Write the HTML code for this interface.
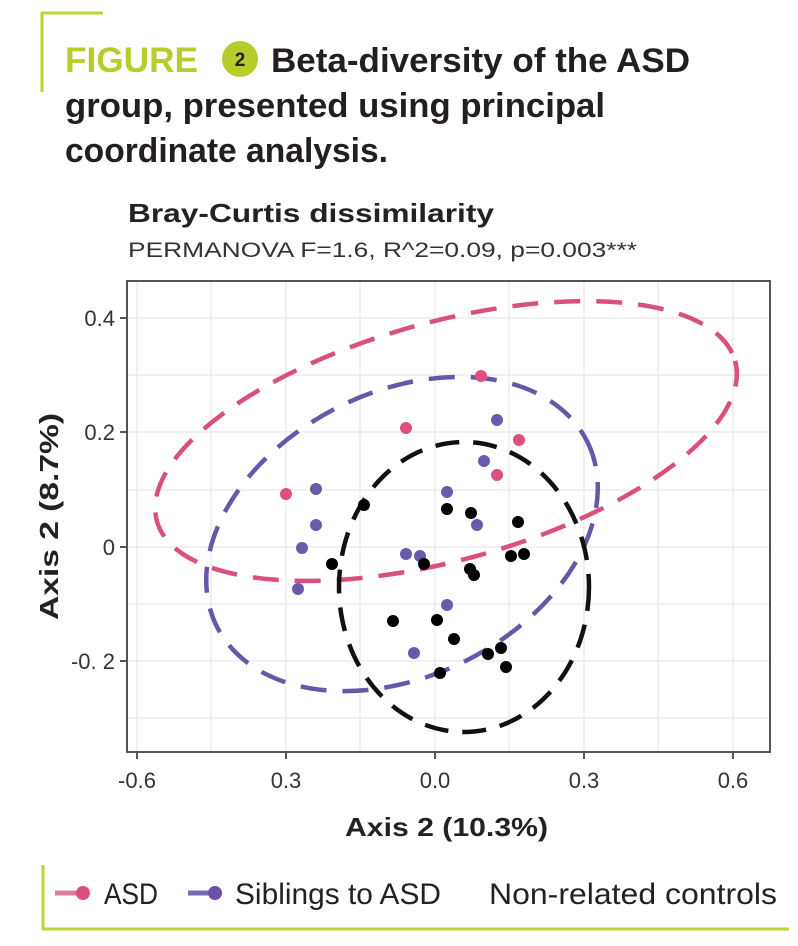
<!DOCTYPE html>
<html><head><meta charset="utf-8"><style>
html,body{margin:0;padding:0;background:#fff;}
body{width:798px;height:946px;overflow:hidden;position:relative;font-family:"Liberation Sans",sans-serif;}
</style></head><body>
<svg width="798" height="946" viewBox="0 0 798 946" xmlns="http://www.w3.org/2000/svg" style="position:absolute;left:0;top:0">
<g font-family="Liberation Sans, sans-serif">
<path d="M42 92 V13 H103" fill="none" stroke="#c2d334" stroke-width="3"/>
<text x="65" y="72" font-size="35" font-weight="bold" fill="#b8cc2c" textLength="133" lengthAdjust="spacingAndGlyphs">FIGURE</text>
<circle cx="240" cy="59" r="18" fill="#b8cc2c"/>
<text x="240" y="66" font-size="19" font-weight="bold" fill="#222" text-anchor="middle">2</text>
<text x="271" y="72" font-size="34" font-weight="bold" fill="#231f20" textLength="419" lengthAdjust="spacingAndGlyphs">Beta-diversity of the ASD</text>
<text x="65" y="117" font-size="34" font-weight="bold" fill="#231f20" textLength="540" lengthAdjust="spacingAndGlyphs">group, presented using principal</text>
<text x="65" y="162" font-size="34" font-weight="bold" fill="#231f20" textLength="323" lengthAdjust="spacingAndGlyphs">coordinate analysis.</text>

<text x="128" y="222" font-size="26" font-weight="bold" fill="#222" textLength="366" lengthAdjust="spacingAndGlyphs">Bray-Curtis dissimilarity</text>
<text x="128" y="257" font-size="21" fill="#333" textLength="509" lengthAdjust="spacingAndGlyphs">PERMANOVA F=1.6, R^2=0.09, p=0.003***</text>

<g stroke="#ececec" stroke-width="1.5">
<line x1="137" y1="281" x2="137" y2="752"/><line x1="211" y1="281" x2="211" y2="752"/>
<line x1="286" y1="281" x2="286" y2="752"/><line x1="360" y1="281" x2="360" y2="752"/>
<line x1="435" y1="281" x2="435" y2="752"/><line x1="509" y1="281" x2="509" y2="752"/>
<line x1="584" y1="281" x2="584" y2="752"/><line x1="658" y1="281" x2="658" y2="752"/>
<line x1="733" y1="281" x2="733" y2="752"/>
<line x1="127" y1="318" x2="770" y2="318"/><line x1="127" y1="375" x2="770" y2="375"/>
<line x1="127" y1="432" x2="770" y2="432"/><line x1="127" y1="490" x2="770" y2="490"/>
<line x1="127" y1="547" x2="770" y2="547"/><line x1="127" y1="604" x2="770" y2="604"/>
<line x1="127" y1="661" x2="770" y2="661"/><line x1="127" y1="718" x2="770" y2="718"/>
</g>
<rect x="127" y="281" width="643" height="471" fill="none" stroke="#555" stroke-width="2"/>
<g stroke="#555" stroke-width="2">
<line x1="137" y1="752" x2="137" y2="759"/><line x1="286" y1="752" x2="286" y2="759"/>
<line x1="435" y1="752" x2="435" y2="759"/><line x1="584" y1="752" x2="584" y2="759"/>
<line x1="733" y1="752" x2="733" y2="759"/>
<line x1="120" y1="318" x2="127" y2="318"/><line x1="120" y1="432" x2="127" y2="432"/>
<line x1="120" y1="547" x2="127" y2="547"/><line x1="120" y1="661" x2="127" y2="661"/>
</g>
<g font-size="22" fill="#333" text-anchor="end">
<text x="115" y="326">0.4</text><text x="115" y="440">0.2</text>
<text x="115" y="555">0</text><text x="115" y="669">-0. 2</text>
</g>
<g font-size="22" fill="#333" text-anchor="middle">
<text x="137" y="788">-0.6</text><text x="286" y="788">0.3</text>
<text x="435" y="788">0.0</text><text x="584" y="788">0.3</text><text x="733" y="788">0.6</text>
</g>
<text x="345" y="836" font-size="26" font-weight="bold" fill="#222" textLength="203" lengthAdjust="spacingAndGlyphs">Axis 2 (10.3%)</text>
<text transform="translate(58,620) rotate(-90)" font-size="26" font-weight="bold" fill="#222" textLength="207" lengthAdjust="spacingAndGlyphs">Axis 2 (8.7%)</text>

<ellipse cx="446" cy="441" rx="300" ry="119" transform="rotate(-15.5 446 441)" fill="none" stroke="#d9507c" stroke-width="4.5" stroke-dasharray="26 16"/>
<ellipse cx="402" cy="534" rx="207" ry="142" transform="rotate(-26.5 402 534)" fill="none" stroke="#6757a8" stroke-width="4.5" stroke-dasharray="26 16"/>
<ellipse cx="464" cy="587" rx="125" ry="145" fill="none" stroke="#111" stroke-width="4.5" stroke-dasharray="24 14"/>

<g fill="#dd4f7e">
<circle cx="481" cy="376" r="6"/><circle cx="406" cy="428" r="6"/><circle cx="519" cy="440" r="6"/>
<circle cx="497" cy="475" r="6"/><circle cx="286" cy="494" r="6"/>
</g>
<g fill="#6a5aab">
<circle cx="497" cy="420" r="6"/><circle cx="484" cy="461" r="6"/><circle cx="447" cy="492" r="6"/>
<circle cx="316" cy="489" r="6"/><circle cx="477" cy="525" r="6"/><circle cx="316" cy="525" r="6"/>
<circle cx="302" cy="548" r="6"/><circle cx="406" cy="554" r="6"/><circle cx="420" cy="556" r="6"/>
<circle cx="298" cy="589" r="6"/><circle cx="447" cy="605" r="6"/><circle cx="414" cy="653" r="6"/>
</g>
<g fill="#000">
<circle cx="364" cy="505" r="6"/><circle cx="447" cy="509" r="6"/><circle cx="471" cy="513" r="6"/>
<circle cx="518" cy="522" r="6"/><circle cx="332" cy="564" r="6"/><circle cx="424" cy="564" r="6"/>
<circle cx="511" cy="556" r="6"/><circle cx="524" cy="554" r="6"/><circle cx="470" cy="569" r="6"/>
<circle cx="474" cy="575" r="6"/><circle cx="393" cy="621" r="6"/><circle cx="437" cy="620" r="6"/>
<circle cx="454" cy="639" r="6"/><circle cx="488" cy="654" r="6"/><circle cx="501" cy="648" r="6"/>
<circle cx="506" cy="667" r="6"/><circle cx="440" cy="673" r="6"/>
</g>

<path d="M43 865 V929 H789" fill="none" stroke="#c2d334" stroke-width="3"/>
<line x1="55" y1="893" x2="80" y2="893" stroke="#e07aa0" stroke-width="5"/>
<circle cx="83" cy="893" r="7" fill="#dd4f7e"/>
<text x="104" y="904" font-size="30" fill="#222" textLength="54" lengthAdjust="spacingAndGlyphs">ASD</text>
<line x1="188" y1="893" x2="212" y2="893" stroke="#7a6ab5" stroke-width="5"/>
<circle cx="215" cy="893" r="7" fill="#6a4ea8"/>
<text x="235" y="904" font-size="30" fill="#222" textLength="206" lengthAdjust="spacingAndGlyphs">Siblings to ASD</text>
<text x="489" y="904" font-size="30" fill="#222" textLength="288" lengthAdjust="spacingAndGlyphs">Non-related controls</text>
</g>
</svg>
</body></html>
